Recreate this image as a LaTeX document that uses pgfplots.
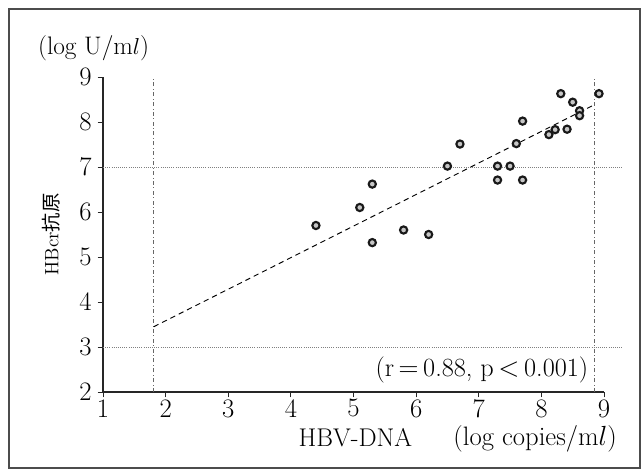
\documentclass[border=0pt]{standalone}
\usepackage{pgfplots}
\pgfplotsset{compat=1.18}
\usepackage{fontspec}
\newfontfamily\cjk{Noto Sans CJK JP}
\begin{document}
\begin{tikzpicture}[x=1pt,y=1pt]
\begin{axis}[
  name=ax,
  scale only axis,
  width=375.75pt, height=236.25pt,
  xmin=1, xmax=9, ymin=2, ymax=9,
  axis lines=left,
  axis line style={-, line width=0.8pt, black!85},
  xtick={1,...,9}, ytick={2,...,9},
  tick align=outside,
  major tick length=4pt,
  tick style={line width=0.6pt, black!85},
  /pgf/number format/assume math mode=true,
  xticklabel style={font=\fontsize{20pt}{22pt}\selectfont, yshift=2pt},
  yticklabel style={font=\fontsize{20pt}{22pt}\selectfont, xshift=-1pt},
  clip=false,
]
% reference lines
\draw[densely dotted, gray, line width=0.6pt] (axis cs:1,7) -- (axis cs:9.29,7);
\draw[densely dotted, gray, line width=0.6pt] (axis cs:1,3) -- (axis cs:9.29,3);
\draw[dash dot, gray!80!black, line width=0.5pt] (axis cs:1.8,2) -- (axis cs:1.8,9);
\draw[dash dot, gray!80!black, line width=0.5pt] (axis cs:8.84,2) -- (axis cs:8.84,9);
% regression line
\addplot[black, dashed, dash pattern=on 4pt off 3pt, line width=0.7pt] coordinates {(1.81,3.45) (8.84,8.38)};
% data
\addplot[only marks, mark=*, mark size=2.7pt, mark options={draw=black!90, fill=gray!45, line width=1.6pt}] coordinates {
(4.4,5.7) (5.1,6.1) (5.3,6.62) (5.3,5.32) (5.8,5.6) (6.2,5.5)
(6.5,7.02) (6.7,7.51) (7.3,7.02) (7.3,6.71) (7.5,7.02) (7.6,7.52)
(7.7,8.02) (7.7,6.71) (8.12,7.72) (8.22,7.83) (8.41,7.84) (8.31,8.63)
(8.5,8.44) (8.61,8.25) (8.61,8.14) (8.92,8.63)
};
\node[font=\fontsize{19pt}{21pt}\selectfont] at (axis cs:0.85,9.64) {(log U/m$l$)};
\node[font=\fontsize{14.5pt}{17pt}\selectfont, rotate=90] at (axis cs:0.17,5.5) {HBcr{\cjk 抗原}};
\node[font=\fontsize{19.2pt}{21pt}\selectfont, anchor=base] at (axis cs:5.03,0.78) {HBV-DNA};
\node[font=\fontsize{20pt}{22pt}\selectfont, anchor=base] at (axis cs:7.9,0.82) {(log copies/m$l$)};
\node[font=\fontsize{19.7pt}{22pt}\selectfont] at (axis cs:7.05,2.49) {(r$\,=\,$0.88, p$\,<\,$0.001)};
\end{axis}
\draw[black!70, line width=0.8pt] ([xshift=-70.5pt,yshift=-57pt]ax.south west) rectangle ([xshift=27pt,yshift=51pt]ax.north east);
\path ([xshift=-77.25pt,yshift=-58.5pt]ax.south west) rectangle ([xshift=30pt,yshift=57.75pt]ax.north east);
\end{tikzpicture}
\end{document}
